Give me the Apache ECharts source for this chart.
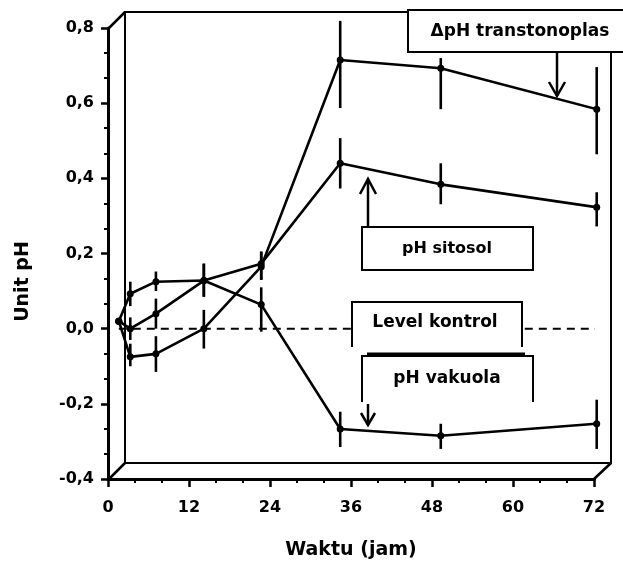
<!DOCTYPE html>
<html>
<head>
<meta charset="utf-8">
<script src="https://cdn.jsdelivr.net/npm/echarts@6/dist/echarts.min.js"></script>
<style>html,body{margin:0;padding:0;background:#fff}#c{width:623px;height:571px}</style>
</head>
<body>
<div id="c"></div>
<script>
// ---- data ----
const times = [1.6, 3.3, 7.1, 14.2, 22.7, 34.4, 49.3, 72.4];
const deltaPH = [0.02, -0.075, -0.067, 0.0, 0.165, 0.715, 0.693, 0.584];
const deltaLow = [null, -0.10, -0.115, -0.053, 0.13, 0.587, 0.584, 0.464];
const deltaHigh = [null, -0.04, -0.02, 0.05, 0.205, 0.819, 0.72, 0.696];
const sitosolPH = [0.02, 0.0, 0.04, 0.128, 0.173, 0.44, 0.384, 0.323];
const sitosolLow = [null, -0.03, 0.0, 0.085, 0.13, 0.373, 0.331, 0.272];
const sitosolHigh = [null, 0.03, 0.08, 0.173, 0.205, 0.507, 0.44, 0.363];
const vakuolaPH = [0.02, 0.093, 0.125, 0.128, 0.064, -0.267, -0.285, -0.253];
const vakuolaLow = [null, 0.06, 0.10, 0.085, -0.008, -0.315, -0.32, -0.32];
const vakuolaHigh = [null, 0.125, 0.152, 0.173, 0.11, -0.221, -0.253, -0.189];
const controlTimes = [1.6, 72.4];
const controlLevel = [0, 0];
const xTickValues = [0, 12, 24, 36, 48, 60, 72];
const yTickLabels = ['-0,4', '-0,2', '0,0', '0,2', '0,4', '0,6', '0,8'];
const labelDelta = 'ΔpH transtonoplas';
const labelSitosol = 'pH sitosol';
const labelKontrol = 'Level kontrol';
const labelVakuola = 'pH vakuola';
const xTitle = 'Waktu (jam)';
const yTitle = 'Unit pH';

const FONT = '"DejaVu Sans", sans-serif';
const chart = echarts.init(document.getElementById('c'), null, {renderer: 'canvas'});

function pts(vals) { return times.map((t, i) => [t, vals[i]]); }
function bars(low, high) {
  const out = [];
  times.forEach((t, i) => { if (low[i] != null) out.push([t, low[i], high[i]]); });
  return out;
}
function lineSeries(name, vals) {
  return {
    name, type: 'line', data: pts(vals), xAxisIndex: 0, yAxisIndex: 0,
    symbol: 'circle', symbolSize: 7, clip: false, z: 5,
    lineStyle: {color: '#000', width: 2.6}, itemStyle: {color: '#000'}
  };
}
function errSeries(name, low, high) {
  return {
    name, type: 'custom', data: bars(low, high), xAxisIndex: 0, yAxisIndex: 0,
    encode: {x: 0, y: [1, 2]}, clip: false, z: 6,
    renderItem: function (params, api) {
      const a = api.coord([api.value(0), api.value(1)]);
      const b = api.coord([api.value(0), api.value(2)]);
      return {type: 'line', shape: {x1: a[0], y1: a[1], x2: b[0], y2: b[1]},
        style: {stroke: '#000', lineWidth: 2.6}};
    }
  };
}
function seg(x1, y1, x2, y2, w) {
  return {type: 'line', z: 100, shape: {x1, y1, x2, y2}, style: {stroke: '#000', lineWidth: w || 2}};
}
function poly(points, w) {
  return {type: 'polyline', z: 100, shape: {points}, style: {stroke: '#000', lineWidth: w || 2, fill: null}};
}
function txt(text, x, y, size) {
  return {type: 'text', z: 101, style: {text, x, y, align: 'center', verticalAlign: 'middle',
    font: 'bold ' + (size || 17) + 'px ' + FONT, fill: '#000'}};
}
function whiteRect(x, y, w, h, stroke) {
  return {type: 'rect', z: 99, shape: {x, y, width: w, height: h},
    style: {fill: '#fff', stroke: stroke ? '#000' : null, lineWidth: 2}};
}

const option = {
  animation: false,
  backgroundColor: '#fff',
  grid: [
    {left: 108, top: 28, width: 486, height: 451, show: false},
    {left: 125, top: 12, width: 486, height: 451, show: true, borderColor: '#000', borderWidth: 2, backgroundColor: 'transparent'}
  ],
  xAxis: [
    {
      type: 'value', gridIndex: 0, min: 0, max: 72, interval: 12,
      name: xTitle, nameLocation: 'middle', nameGap: 62,
      nameTextStyle: {fontFamily: FONT, fontWeight: 'bold', fontSize: 19, color: '#000'},
      axisLine: {show: true, onZero: false, lineStyle: {color: '#000', width: 3}},
      axisTick: {show: true, length: 8, lineStyle: {color: '#000', width: 2.5}},
      minorTick: {show: true, splitNumber: 3, length: 4, lineStyle: {color: '#000', width: 2}},
      splitLine: {show: false},
      axisLabel: {margin: 21, fontFamily: FONT, fontWeight: 'bold', fontSize: 16, color: '#000',
        formatter: v => String(xTickValues[xTickValues.indexOf(v)])}
    },
    {type: 'value', gridIndex: 1, min: 0, max: 72, show: false}
  ],
  yAxis: [
    {
      type: 'value', gridIndex: 0, min: -0.4, max: 0.8, interval: 0.2,
      name: yTitle, nameLocation: 'middle', nameGap: 75, nameRotate: 90,
      nameTextStyle: {fontFamily: FONT, fontWeight: 'bold', fontSize: 19, color: '#000', padding: [0, 56, 0, 0]},
      axisLine: {show: true, onZero: false, lineStyle: {color: '#000', width: 3}},
      axisTick: {show: true, length: 7, lineStyle: {color: '#000', width: 2.5}},
      minorTick: {show: true, splitNumber: 3, length: 4, lineStyle: {color: '#000', width: 2}},
      splitLine: {show: false},
      axisLabel: {margin: 14, fontFamily: FONT, fontWeight: 'bold', fontSize: 16, color: '#000',
        formatter: v => yTickLabels[Math.round((v + 0.4) / 0.2)]}
    },
    {type: 'value', gridIndex: 1, min: -0.4, max: 0.8, show: false}
  ],
  series: [
    {
      name: labelKontrol, type: 'line', data: controlTimes.map((t, i) => [t, controlLevel[i]]),
      symbol: 'none', clip: false, z: 3,
      lineStyle: {color: '#000', width: 2, type: [8, 6]}
    },
    lineSeries(labelDelta, deltaPH),
    lineSeries(labelSitosol, sitosolPH),
    lineSeries(labelVakuola, vakuolaPH),
    errSeries(labelDelta + ' err', deltaLow, deltaHigh),
    errSeries(labelSitosol + ' err', sitosolLow, sitosolHigh),
    errSeries(labelVakuola + ' err', vakuolaLow, vakuolaHigh)
  ],
  graphic: [
    // 3D box diagonals
    seg(109, 28, 125, 12, 2.5),
    seg(109, 479, 125, 463, 2.5),
    seg(594, 479, 611, 463, 2.5),
    // ΔpH transtonoplas label
    whiteRect(408, 10, 240, 42, true),
    txt(labelDelta, 520, 32, 17),
    seg(557, 52, 557, 96, 2.5),
    poly([[549, 82], [557, 96], [565, 82]], 2.5),
    // pH sitosol label
    whiteRect(362, 227, 171, 43, true),
    txt(labelSitosol, 447, 249, 16),
    seg(368, 227, 368, 180, 2.5),
    poly([[360, 194], [368, 179], [376, 194]], 2.5),
    // Level kontrol label
    whiteRect(352, 302, 170, 45, false),
    poly([[352, 347], [352, 302], [522, 302], [522, 347]], 2),
    txt(labelKontrol, 435, 323, 17),
    // pH vakuola label
    whiteRect(362, 356, 171, 46, false),
    poly([[362, 402], [362, 356], [533, 356], [533, 402]], 2),
    seg(367, 354, 525, 354, 3),
    txt(labelVakuola, 447, 379, 17),
    seg(368, 404, 368, 425, 2.5),
    poly([[361, 413], [368, 425], [375, 413]], 2.5)
  ]
};
chart.setOption(option);
</script>
</body>
</html>
